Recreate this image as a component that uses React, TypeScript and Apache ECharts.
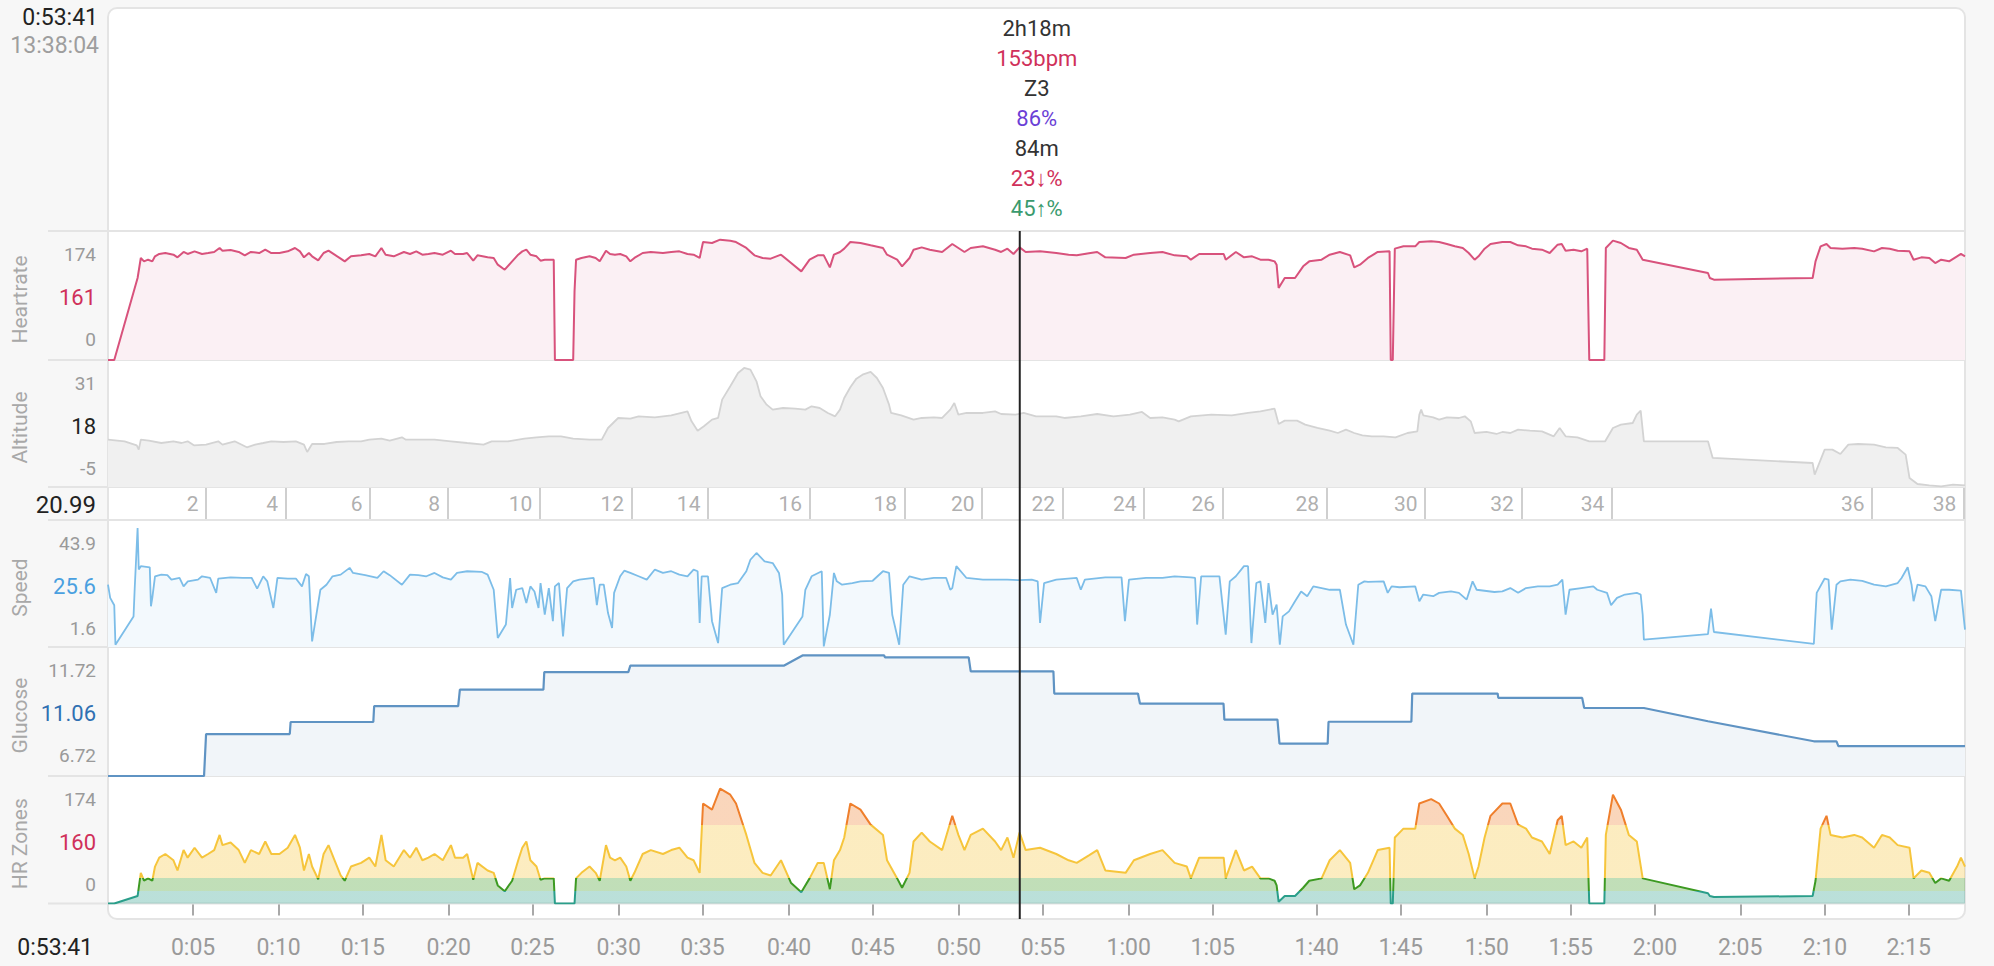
import React, { useEffect, useRef } from "react";
import * as echarts from "echarts";

// x = position on the ride's time axis (minutes of plotted time), y = series value
const heartRate: number[][] = [
  [0, 0], [0.37, 0], [1.75, 118.9], [1.94, 147.9], [2.13, 143.0], [2.37, 145.4], [2.62, 143.0], [2.78, 150.3],
  [3.03, 153.7], [3.39, 155.1], [3.87, 152.7], [4.11, 148.8], [4.47, 156.6], [4.71, 153.7], [5.12, 157.5],
  [5.56, 153.7], [5.92, 155.1], [6.28, 156.6], [6.6, 162.4], [6.77, 158.5], [7.25, 159.5], [7.73, 156.6],
  [8.09, 151.7], [8.45, 156.6], [8.94, 155.1], [9.3, 159.9], [9.66, 155.1], [10.14, 155.1], [10.63, 157.5],
  [11.06, 162.4], [11.35, 157.5], [11.59, 148.8], [11.88, 155.1], [12.07, 150.3], [12.43, 144.5], [12.75, 155.1],
  [13.04, 158.5], [13.4, 152.7], [13.76, 146.9], [14.0, 143.0], [14.37, 150.3], [14.97, 151.7], [15.45, 153.7],
  [15.81, 150.3], [16.17, 162.4], [16.42, 152.7], [16.9, 150.3], [17.5, 156.6], [17.86, 153.7], [18.23, 157.5],
  [18.59, 152.7], [18.95, 153.7], [19.31, 155.1], [19.8, 152.7], [20.28, 158.5], [20.52, 153.7], [21.0, 153.7],
  [21.24, 155.1], [21.6, 144.0], [21.85, 151.7], [22.45, 148.8], [22.81, 147.9], [23.05, 138.2], [23.46, 130.9],
  [23.9, 143.0], [24.26, 152.7], [24.5, 157.5], [24.74, 159.9], [24.98, 152.7], [25.34, 150.3], [25.58, 144.0],
  [25.83, 145.4], [26.36, 145.4], [26.43, 0], [27.51, 0], [27.59, 99.5], [27.68, 145.4], [28.0, 147.9],
  [28.48, 150.3], [28.84, 147.9], [29.08, 143.0], [29.45, 158.5], [29.69, 153.7], [29.98, 152.7], [30.29, 153.7],
  [30.65, 150.3], [30.89, 143.0], [31.13, 147.9], [31.62, 155.1], [32.1, 156.6], [32.82, 155.1], [33.31, 156.6],
  [33.79, 157.5], [34.27, 153.7], [34.63, 152.7], [34.99, 147.9], [35.19, 171.0], [35.72, 169.6], [36.2, 174.4],
  [36.8, 173.0], [37.14, 171.0], [37.75, 162.4], [38.23, 151.7], [38.71, 147.9], [39.19, 146.9], [39.8, 152.7],
  [40.4, 140.6], [41.0, 128.5], [41.49, 145.4], [41.97, 151.7], [42.33, 151.7], [42.69, 134.3], [42.93, 152.7],
  [43.29, 156.6], [43.54, 161.4], [43.9, 171.0], [44.5, 169.6], [45.1, 166.2], [45.83, 162.4], [46.07, 152.7],
  [46.67, 145.4], [46.96, 135.8], [47.4, 147.9], [47.64, 159.9], [48.12, 163.3], [48.6, 159.9], [49.33, 156.6],
  [49.93, 168.2], [50.29, 162.4], [50.65, 156.6], [51.02, 162.4], [51.74, 164.8], [52.46, 159.9], [52.82, 156.6],
  [53.19, 161.4], [53.55, 153.7], [53.91, 163.3], [54.27, 156.6], [55.12, 157.5], [56.08, 155.1], [56.81, 152.7],
  [57.29, 151.7], [58.01, 154.6], [58.5, 156.6], [58.98, 148.8], [60.18, 147.9], [60.67, 152.7], [61.63, 155.1],
  [62.36, 156.6], [63.08, 151.7], [63.8, 150.3], [64.04, 145.4], [64.53, 153.7], [65.98, 153.7], [66.1, 145.4],
  [66.7, 156.6], [67.18, 148.8], [67.66, 150.3], [68.15, 145.4], [68.63, 145.4], [68.99, 143.0], [69.11, 138.2],
  [69.23, 104.4], [69.59, 118.9], [70.2, 118.9], [70.68, 135.8], [71.04, 143.0], [71.77, 145.4], [72.25, 152.7],
  [72.85, 156.6], [73.46, 151.7], [73.7, 134.3], [74.04, 138.2], [74.51, 147.9], [75.09, 156.6], [75.79, 157.5],
  [75.86, 0], [75.98, 0], [76.1, 161.4], [76.61, 164.8], [77.31, 164.8], [77.55, 171.0], [78.25, 172.0],
  [78.72, 171.0], [79.18, 168.2], [79.65, 164.8], [80.12, 162.4], [80.47, 155.1], [80.82, 145.4], [81.05, 150.3],
  [81.41, 161.4], [81.76, 168.2], [82.46, 171.0], [82.93, 171.0], [83.39, 166.2], [83.86, 164.8], [84.21, 161.4],
  [84.8, 159.9], [85.26, 155.1], [85.73, 167.2], [85.97, 168.2], [86.2, 158.5], [86.67, 159.9], [87.13, 157.5],
  [87.48, 161.4], [87.6, 0], [88.49, 0], [88.58, 162.4], [89.0, 173.0], [89.47, 169.6], [89.94, 162.4],
  [90.41, 159.9], [90.76, 145.4], [94.62, 126.1], [94.73, 118.9], [94.97, 116.5], [100.81, 118.9], [100.98, 143.0],
  [101.28, 164.8], [101.63, 168.2], [101.87, 162.4], [102.57, 161.4], [103.27, 162.4], [103.74, 161.4],
  [104.44, 157.5], [104.91, 162.4], [105.37, 161.4], [105.84, 158.5], [106.54, 157.5], [106.78, 145.4],
  [107.24, 148.8], [107.71, 147.9], [108.06, 140.6], [108.41, 145.4], [108.88, 143.0], [109.35, 150.3],
  [109.58, 153.7], [109.82, 150.3],
];

const altitude: number[][] = [
  [0, 9.35], [0.98, 8.85], [1.7, 7.63], [1.82, 6.32], [1.94, 9.35], [2.42, 9.05], [3.15, 8.34], [3.87, 8.85],
  [4.35, 8.34], [4.71, 8.85], [5.08, 7.63], [5.8, 7.84], [6.52, 8.85], [6.77, 7.84], [7.49, 8.85], [8.21, 7.03],
  [8.7, 7.84], [9.18, 8.34], [9.66, 8.85], [10.38, 8.64], [11.11, 8.85], [11.59, 7.84], [11.78, 5.61], [12.07, 8.04],
  [12.8, 8.04], [13.52, 8.64], [14.24, 8.85], [14.97, 8.85], [15.45, 9.35], [16.17, 9.66], [16.66, 9.05],
  [17.38, 10.06], [17.62, 9.35], [19.31, 9.35], [20.28, 8.85], [21.24, 8.34], [22.21, 7.84], [22.69, 8.85],
  [23.66, 8.85], [24.62, 9.66], [25.34, 10.06], [26.07, 10.36], [26.79, 10.36], [27.51, 9.66], [28.48, 9.35],
  [29.2, 9.35], [29.57, 12.89], [30.17, 15.92], [30.89, 15.72], [31.38, 16.43], [32.34, 16.12], [33.31, 16.73],
  [34.27, 17.94], [34.51, 14.91], [34.87, 12.08], [35.24, 13.4], [35.72, 15.42], [36.08, 15.92], [36.32, 21.48],
  [36.8, 25.52], [37.26, 29.56], [37.62, 31.08], [37.99, 30.57], [38.35, 27.04], [38.59, 22.49], [38.95, 19.96],
  [39.31, 18.45], [39.92, 18.95], [40.64, 18.75], [41.24, 18.45], [41.61, 19.46], [42.09, 18.95], [42.57, 17.44],
  [43.0, 16.43], [43.29, 18.45], [43.54, 21.98], [43.9, 25.22], [44.26, 27.85], [44.62, 29.06], [45.1, 29.87],
  [45.47, 28.05], [45.83, 25.02], [46.19, 19.96], [46.31, 17.44], [46.91, 16.73], [47.64, 15.42], [48.12, 15.92],
  [48.84, 16.12], [49.33, 15.92], [49.81, 18.45], [50.05, 20.47], [50.29, 16.93], [50.77, 17.44], [51.74, 17.44],
  [52.46, 17.94], [52.82, 17.13], [53.67, 16.93], [54.15, 17.44], [54.88, 16.43], [56.08, 16.43], [56.56, 15.92],
  [57.53, 16.43], [58.5, 17.13], [59.46, 16.43], [60.43, 16.93], [61.15, 17.74], [61.63, 15.92], [62.36, 16.12],
  [63.08, 15.42], [63.32, 14.91], [64.04, 16.43], [65.25, 16.93], [66.46, 16.73], [67.42, 17.44], [68.15, 17.94],
  [68.99, 18.75], [69.23, 14.1], [69.59, 15.11], [70.32, 15.11], [70.8, 13.9], [71.52, 12.89], [72.25, 12.08],
  [72.73, 11.37], [73.21, 12.39], [73.7, 11.37], [74.18, 10.67], [74.74, 10.36], [75.44, 10.36], [76.14, 10.06],
  [76.85, 11.37], [77.43, 11.88], [77.55, 16.93], [77.66, 18.45], [77.78, 16.73], [78.37, 16.12], [78.72, 15.42],
  [79.18, 16.12], [79.89, 15.92], [80.24, 16.43], [80.59, 14.91], [80.82, 11.37], [81.52, 11.68], [82.11, 11.07],
  [82.46, 11.68], [82.93, 11.37], [83.39, 12.39], [84.09, 12.08], [84.8, 11.88], [85.5, 10.36], [85.85, 12.89],
  [86.2, 10.36], [86.9, 10.06], [87.6, 8.85], [88.54, 8.85], [89.0, 12.89], [89.47, 13.9], [90.17, 14.4],
  [90.41, 16.93], [90.64, 18.15], [90.83, 8.85], [94.62, 8.85], [94.9, 3.8], [100.81, 2.28], [100.93, -1.26],
  [101.52, 6.32], [101.98, 6.32], [102.45, 5.01], [102.92, 7.84], [103.5, 8.04], [104.44, 7.84], [105.14, 7.03],
  [105.84, 6.83], [106.31, 4.81], [106.54, -2.27], [107.01, -4.09], [107.71, -4.49], [108.41, -4.79],
  [109.11, -4.29], [109.82, -4.49],
];

const speed: number[][] = [
  [0, 23.8], [0.13, 19.1], [0.37, 16.5], [0.44, 2.4], [1.51, 12.5], [1.58, 22.6], [1.75, 44.0], [1.82, 29.2],
  [1.94, 30.4], [2.47, 30.0], [2.54, 16.1], [2.62, 19.1], [2.78, 26.8], [3.15, 27.4], [3.51, 27.2], [3.75, 25.6],
  [4.23, 26.2], [4.47, 23.2], [4.72, 25.0], [5.32, 25.6], [5.56, 26.8], [6.04, 26.2], [6.4, 20.9], [6.52, 26.0],
  [7.25, 26.4], [7.97, 26.2], [8.5, 26.2], [8.82, 22.4], [9.18, 26.8], [9.42, 25.0], [9.78, 15.5], [10.02, 26.2],
  [10.63, 26.0], [11.11, 26.0], [11.47, 23.2], [11.71, 27.6], [11.88, 26.8], [12.07, 3.6], [12.56, 22.0],
  [12.92, 23.8], [13.28, 26.8], [13.76, 27.4], [14.29, 29.8], [14.49, 28.0], [15.21, 27.2], [15.93, 26.2],
  [16.3, 28.6], [16.66, 27.2], [17.38, 23.8], [17.86, 27.4], [18.35, 27.2], [18.83, 26.8], [19.31, 28.0],
  [19.8, 26.4], [20.28, 25.6], [20.64, 28.0], [21.24, 28.6], [22.09, 28.4], [22.45, 27.4], [22.81, 22.0],
  [23.05, 4.8], [23.53, 9.6], [23.78, 26.2], [23.9, 15.5], [24.14, 22.0], [24.5, 22.6], [24.74, 17.3],
  [24.98, 23.2], [25.22, 21.4], [25.46, 15.5], [25.58, 24.4], [25.83, 13.1], [26.07, 22.6], [26.31, 10.8],
  [26.43, 23.2], [26.67, 24.4], [26.91, 5.4], [27.15, 22.6], [27.51, 25.0], [27.88, 25.6], [28.72, 26.2],
  [28.91, 16.5], [29.08, 23.8], [29.32, 23.8], [29.57, 13.7], [29.81, 8.4], [29.93, 20.9], [30.29, 26.8],
  [30.53, 28.8], [30.89, 28.0], [31.38, 26.8], [31.86, 25.6], [32.34, 29.2], [32.82, 28.0], [33.31, 28.6],
  [33.79, 27.4], [34.27, 26.8], [34.63, 29.2], [34.87, 28.6], [34.99, 10.2], [35.11, 26.8], [35.48, 26.8],
  [35.72, 10.8], [36.08, 3.0], [36.32, 22.6], [36.8, 23.8], [37.26, 24.4], [37.75, 28.6], [37.99, 32.7],
  [38.35, 35.1], [38.83, 32.1], [39.31, 31.5], [39.68, 28.0], [39.87, 20.3], [39.96, 2.4], [41.07, 12.5],
  [41.24, 22.0], [41.61, 26.8], [42.21, 28.6], [42.33, 1.8], [42.69, 13.1], [42.93, 28.0], [43.1, 25.0],
  [43.41, 23.8], [44.02, 24.4], [44.5, 25.0], [45.22, 25.2], [45.83, 28.6], [46.19, 28.0], [46.38, 13.1],
  [46.79, 2.4], [47.03, 23.8], [47.4, 26.8], [48.12, 25.6], [48.84, 26.2], [49.57, 26.2], [49.81, 22.0],
  [49.93, 22.6], [50.17, 30.4], [50.77, 26.2], [51.74, 25.6], [53.19, 25.6], [53.91, 25.4], [54.63, 25.6],
  [54.98, 25.0], [55.12, 10.2], [55.36, 24.4], [56.08, 25.6], [57.29, 26.2], [57.53, 22.0], [57.77, 25.6],
  [58.98, 26.4], [59.94, 26.4], [60.14, 10.8], [60.38, 25.6], [61.39, 26.2], [62.36, 26.2], [63.08, 26.8],
  [64.04, 26.4], [64.29, 26.2], [64.41, 9.6], [64.65, 26.8], [65.73, 26.8], [66.1, 6.0], [66.34, 25.0],
  [66.7, 26.8], [67.18, 30.4], [67.42, 30.4], [67.62, 3.0], [67.91, 24.4], [68.15, 25.0], [68.44, 10.2],
  [68.63, 24.4], [68.87, 13.1], [69.11, 16.7], [69.3, 2.4], [69.47, 12.5], [69.84, 14.3], [70.2, 17.9],
  [70.56, 21.4], [70.92, 19.7], [71.28, 23.2], [71.77, 22.6], [72.25, 22.0], [72.85, 22.0], [73.21, 9.6],
  [73.65, 2.4], [73.94, 23.8], [74.3, 25.0], [74.51, 24.8], [75.44, 25.0], [75.68, 20.9], [75.91, 23.2],
  [76.38, 22.9], [77.31, 23.2], [77.55, 17.9], [77.78, 20.3], [78.37, 19.7], [78.72, 20.9], [79.42, 21.4],
  [79.89, 20.9], [80.35, 18.5], [80.7, 25.0], [80.94, 22.0], [81.99, 21.2], [82.46, 21.4], [82.93, 22.6],
  [83.39, 20.9], [83.86, 22.6], [84.56, 23.2], [85.26, 23.2], [85.73, 23.8], [86.01, 25.6], [86.2, 13.1],
  [86.43, 22.0], [87.13, 22.6], [87.84, 23.2], [88.07, 22.0], [88.65, 20.9], [88.89, 16.5], [89.24, 19.1],
  [89.71, 20.3], [90.41, 20.9], [90.64, 20.3], [90.76, 13.1], [90.83, 4.2], [94.62, 6.2], [94.8, 15.3],
  [94.97, 6.95], [100.88, 2.7], [101.05, 20.9], [101.52, 26.0], [101.75, 25.6], [101.94, 7.8], [102.22, 23.8],
  [102.45, 25.0], [103.04, 25.6], [103.74, 25.2], [104.44, 23.8], [105.14, 23.2], [105.84, 24.4], [106.07, 26.2],
  [106.43, 30.0], [106.66, 23.8], [106.78, 17.9], [107.01, 23.8], [107.48, 23.2], [107.83, 19.7], [108.06, 10.8],
  [108.41, 22.0], [108.88, 22.0], [109.58, 21.7], [109.82, 7.8],
];

const glucose: number[][] = [
  [0, 6.72], [5.68, 6.72], [5.8, 8.46], [10.75, 8.46], [10.8, 8.96], [15.69, 8.96], [15.74, 9.62], [20.71, 9.62],
  [20.81, 10.3], [25.75, 10.3], [25.8, 11.03], [30.77, 11.03], [30.89, 11.3], [39.99, 11.3], [41.07, 11.72],
  [45.9, 11.72], [45.95, 11.64], [50.9, 11.64], [51.02, 11.06], [55.91, 11.06], [55.96, 10.14], [60.91, 10.14],
  [61.03, 9.72], [65.97, 9.72], [66.02, 9.06], [69.16, 9.06], [69.28, 8.06], [72.13, 8.06], [72.18, 8.97],
  [77.08, 8.97], [77.13, 10.14], [82.18, 10.14], [82.22, 9.96], [87.18, 9.96], [87.3, 9.54], [90.83, 9.54],
  [94.62, 8.99], [100.88, 8.16], [102.22, 8.16], [102.33, 7.96], [109.82, 7.96],
];

// heart-rate zone scale of the "HR Zones" panel: bpm boundaries and their level on that panel's axis
const zoneHr = [100, 133, 146, 166, 176, 200];
const zoneLevel = [0, 13, 25.7, 78, 122, 180];

const timeTickPos = [5.03, 10.09, 15.07, 20.15, 25.1, 30.2, 35.16, 40.28, 45.23, 50.32, 55.29, 60.36, 65.33,
  71.48, 76.45, 81.54, 86.5, 91.48, 96.53, 101.54, 106.49];
const timeTickLabels = ["0:05", "0:10", "0:15", "0:20", "0:25", "0:30", "0:35", "0:40", "0:45", "0:50", "0:55",
  "1:00", "1:05", "1:40", "1:45", "1:50", "1:55", "2:00", "2:05", "2:10", "2:15"];

const distancePos = [5.8, 10.5, 15.5, 20.08, 25.54, 30.96, 35.48, 41.49, 47.11, 51.69, 56.45, 61.27, 65.91,
  72.06, 77.89, 83.58, 88.94, 104.32, 109.75];
const distanceKm = [2, 4, 6, 8, 10, 12, 14, 16, 18, 20, 22, 24, 26, 28, 30, 32, 34, 36, 38];

const panelNames = ["Heartrate", "Altitude", "", "Speed", "Glucose", "HR Zones"];
const panelTopLabels = ["174", "31", "", "43.9", "11.72", "174"];
const panelMidLabels = ["161", "18", "20.99", "25.6", "11.06", "160"];
const panelBottomLabels = ["0", "-5", "", "1.6", "6.72", "0"];

const cursorT = 53.92;
const cursorTime = "0:53:41";
const cursorClock = "13:38:04";
const infoTexts = ["2h18m", "153bpm", "Z3", "86%", "84m", "23↓%", "45↑%"];
const xMax = 109.82;

// ---- layout & style (not data) ----
const FONT = "Roboto, 'Noto Sans', sans-serif";
const PLOT_LEFT = 108;
const PLOT_WIDTH = 1857;
const panels = [
  { top: 231, h: 129, min: 0, max: 187 },
  { top: 360, h: 127, min: -5, max: 33.5 },
  { top: 487, h: 33, min: 0, max: 1 },
  { top: 520, h: 127, min: 1.6, max: 46.86 },
  { top: 647, h: 129, min: 6.72, max: 12.07 },
  { top: 776, h: 127.5, min: 0, max: 127.5 },
];
const midColors = ["#d0305a", "#222222", "#222222", "#4aa0e0", "#2f70b2", "#d0305a"];
const infoColors = ["#333333", "#d0305a", "#333333", "#6b3fd6", "#333333", "#d0305a", "#3a9a6e"];

function toZone(hr: number): number {
  if (hr <= zoneHr[0]) return zoneLevel[0];
  for (let i = 1; i < zoneHr.length; i++) {
    if (hr <= zoneHr[i]) {
      const f = (hr - zoneHr[i - 1]) / (zoneHr[i] - zoneHr[i - 1]);
      return zoneLevel[i - 1] + f * (zoneLevel[i] - zoneLevel[i - 1]);
    }
  }
  return zoneLevel[zoneLevel.length - 1];
}

function nearestTickLabel(v: number): string {
  let best = 0;
  for (let i = 1; i < timeTickPos.length; i++) {
    if (Math.abs(timeTickPos[i] - v) < Math.abs(timeTickPos[best] - v)) best = i;
  }
  return timeTickLabels[best];
}

function buildOption(): any {
  const lineBase = (gi: number, data: number[][], color: string, width: number, fill: string) => ({
    type: "line",
    xAxisIndex: gi,
    yAxisIndex: gi,
    data,
    symbol: "none",
    showSymbol: false,
    silent: true,
    z: 9,
    lineStyle: { color, width },
    areaStyle: { color: fill, opacity: 1, origin: "start" },
  });
  return {
    animation: false,
    backgroundColor: "transparent",
    grid: panels.map((p) => ({
      left: PLOT_LEFT,
      top: p.top,
      width: PLOT_WIDTH,
      height: p.h,
      containLabel: false,
      outerBoundsMode: "none",
    })),
    xAxis: panels.map((_, i) => ({
      type: "value",
      gridIndex: i,
      min: 0,
      max: xMax,
      show: i === 5,
      offset: 16,
      axisLine: { show: false },
      splitLine: { show: false },
      axisTick: {
        show: i === 5,
        length: 12,
        lineStyle: { color: "#a8a8a8", width: 2 },
        customValues: timeTickPos,
      },
      axisLabel: {
        show: i === 5,
        customValues: timeTickPos,
        formatter: (v: number) => nearestTickLabel(v),
        color: "#9a9a9a",
        fontSize: 23,
        fontFamily: FONT,
        margin: 16,
      },
    })),
    yAxis: panels.map((p, i) => ({
      type: "value",
      gridIndex: i,
      min: p.min,
      max: p.max,
      show: false,
    })),
    visualMap: [
      {
        type: "piecewise",
        show: false,
        seriesIndex: 5,
        dimension: 1,
        pieces: [
          { lt: zoneLevel[1], color: "#2a9e8a" },
          { gte: zoneLevel[1], lt: zoneLevel[2], color: "#3d9a22" },
          { gte: zoneLevel[2], lt: zoneLevel[3], color: "#f6c53c" },
          { gte: zoneLevel[3], color: "#ef7f2c" },
        ],
      },
    ],
    series: [
      lineBase(0, heartRate, "#d8527c", 2, "#fbf0f4"),
      lineBase(1, altitude, "#d3d3d3", 1.8, "#f0f0f0"),
      {
        type: "scatter",
        xAxisIndex: 2,
        yAxisIndex: 2,
        silent: true,
        symbolSize: 1,
        itemStyle: { color: "rgba(0,0,0,0)" },
        data: distancePos.map((p, i) => [p, 0.5, distanceKm[i]]),
        label: {
          show: true,
          position: "left",
          distance: 7,
          formatter: (p: any) => String(p.value[2]),
          color: "#9a9a9a",
          fontSize: 21,
          fontFamily: FONT,
        },
        markLine: {
          silent: true,
          symbol: ["none", "none"],
          label: { show: false },
          lineStyle: { color: "#cfcfcf", width: 2, type: "solid" },
          data: distancePos.map((p) => ({ xAxis: p })),
        },
      },
      lineBase(3, speed, "#7cbde8", 1.8, "#f3f9fd"),
      lineBase(4, glucose, "#5f93c3", 2.2, "#f1f5f9"),
      {
        type: "line",
        xAxisIndex: 5,
        yAxisIndex: 5,
        data: heartRate.map(([t, h]) => [t, toZone(h)]),
        symbol: "none",
        showSymbol: false,
        silent: true,
        z: 9,
        lineStyle: { width: 2 },
        areaStyle: { opacity: 0.32, origin: "start" },
      },
    ],
  };
}

function buildGraphic(cursorX: number): any[] {
  const els: any[] = [];
  const txt = (x: number, y: number, text: string, fill: string, size: number, align = "right", extra: any = {}) => ({
    type: "text",
    x,
    y,
    z: 10,
    silent: true,
    ...extra,
    style: {
      text,
      fill,
      fontSize: size,
      fontFamily: FONT,
      textAlign: align,
      textVerticalAlign: "middle",
    },
  });
  // card
  els.push({
    type: "rect",
    z: 0,
    silent: true,
    shape: { x: 108, y: 8, width: 1857, height: 911, r: 9 },
    style: { fill: "#ffffff", stroke: "#e4e4e4", lineWidth: 2 },
  });
  // separators
  const seps = [231, 360, 487, 520, 647, 776, 903.5];
  seps.forEach((y) =>
    els.push({
      type: "line",
      z: 8,
      silent: true,
      shape: { x1: 48, y1: y, x2: 1966, y2: y },
      style: { stroke: "#e4e4e4", lineWidth: 2 },
    })
  );
  // left labels per panel
  panels.forEach((p, i) => {
    if (i === 2) {
      els.push(txt(96, p.top + 18, panelMidLabels[i], midColors[i], 24));
      return;
    }
    els.push(txt(96, p.top + 23, panelTopLabels[i], "#9a9a9a", 19));
    els.push(txt(96, p.top + 66, panelMidLabels[i], midColors[i], 22));
    els.push(txt(96, p.top + 108, panelBottomLabels[i], "#9a9a9a", 19));
    els.push(
      txt(20, p.top + p.h / 2 + 4, panelNames[i], "#a8a8a8", 21, "center", { rotation: Math.PI / 2 })
    );
  });
  // top-left time
  els.push(txt(98, 17, cursorTime, "#222222", 23));
  els.push(txt(99, 45, cursorClock, "#9e9e9e", 23));
  // bottom-left time
  els.push(txt(93, 947, cursorTime, "#222222", 23));
  // info block
  infoTexts.forEach((t, i) => els.push(txt(cursorX + 17, 28 + 30 * i, t, infoColors[i], 22, "center")));
  // cursor line
  els.push({
    type: "line",
    z: 20,
    silent: true,
    shape: { x1: cursorX, y1: 231, x2: cursorX, y2: 919 },
    style: { stroke: "#222222", lineWidth: 2 },
  });
  return els;
}

export default function App() {
  const ref = useRef<HTMLDivElement>(null);
  useEffect(() => {
    const el = ref.current;
    if (!el) return;
    const chart = echarts.init(el, null, { renderer: "svg" });
    chart.setOption(buildOption());
    const pt = chart.convertToPixel({ gridIndex: 0 }, [cursorT, 0]) as number[];
    const cx = pt && isFinite(pt[0]) ? pt[0] : 1019.5;
    chart.setOption({ graphic: { elements: buildGraphic(cx) } });
    return () => chart.dispose();
  }, []);
  return (
    <div
      ref={ref}
      style={{ position: "fixed", left: 0, top: 0, width: 1994, height: 966, background: "#f7f7f7" }}
    />
  );
}
